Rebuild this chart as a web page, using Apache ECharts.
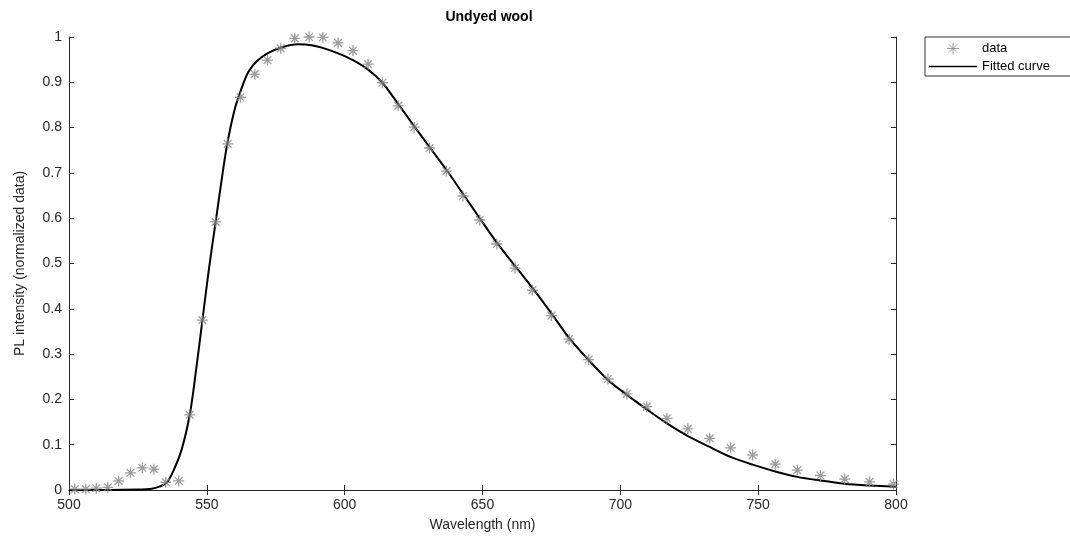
<!DOCTYPE html>
<html>
<head>
<meta charset="utf-8">
<script src="https://cdn.jsdelivr.net/npm/echarts@6/dist/echarts.min.js"></script>
<style>
  html, body { margin: 0; padding: 0; background: #fff; }
  #chart { width: 1070px; height: 545px; }
</style>
</head>
<body>
<div id="chart"></div>
<script>
// measured points (wavelength in nm, normalized PL)
const dataWl = [502.1, 506.1, 509.9, 514.1, 518.0, 522.3, 526.6, 530.8, 535.1, 539.8,
  543.8, 548.4, 553.2, 557.6, 562.2, 567.4, 572.0, 576.8, 581.9, 587.1,
  592.1, 597.6, 603.0, 608.5, 613.7, 619.4, 625.2, 630.8, 636.9, 642.9,
  649.0, 655.2, 661.8, 668.1, 675.0, 681.4, 688.5, 695.5, 702.4, 709.6,
  716.9, 724.5, 732.4, 740.0, 748.0, 756.2, 764.2, 772.6, 781.4, 790.4, 799.1]
const dataVal = [0.002, 0.002, 0.004, 0.006, 0.020, 0.038, 0.049, 0.046, 0.017, 0.020,
  0.166, 0.375, 0.592, 0.764, 0.867, 0.918, 0.949, 0.975, 0.997, 1.000,
  0.999, 0.987, 0.970, 0.940, 0.899, 0.848, 0.801, 0.755, 0.704, 0.649,
  0.596, 0.543, 0.490, 0.441, 0.385, 0.333, 0.288, 0.245, 0.212, 0.184,
  0.158, 0.135, 0.114, 0.093, 0.077, 0.057, 0.044, 0.032, 0.024, 0.018, 0.013]

// fitted curve
const fitWl = [500, 515, 525, 530, 533, 535.3, 537.7, 540.8, 543.8, 546,
  548.4, 550.8, 553.2, 555.5, 557.4, 560, 562.2, 565, 568, 572,
  577, 583, 588, 592, 597.6, 603, 608.5, 613.7, 619.3, 625.1,
  630.8, 636.9, 642.9, 649, 655.2, 661.9, 668.1, 675, 681.4, 688.5,
  695.5, 702.4, 709.6, 716.9, 724.5, 732.4, 740, 748, 756.2, 764.2,
  772.6, 781.4, 790.4, 800]
const fitVal = [0, 0, 0.001, 0.003, 0.008, 0.015, 0.040, 0.088, 0.166, 0.26,
  0.375, 0.49, 0.592, 0.69, 0.764, 0.838, 0.880, 0.922, 0.946, 0.964,
  0.977, 0.984, 0.982, 0.976, 0.964, 0.949, 0.928, 0.899, 0.853, 0.804,
  0.757, 0.707, 0.654, 0.600, 0.546, 0.494, 0.446, 0.390, 0.336, 0.287,
  0.243, 0.210, 0.178, 0.147, 0.119, 0.095, 0.073, 0.056, 0.041, 0.029,
  0.021, 0.014, 0.010, 0.007]

const xMin = 500, xMax = 800, xStep = 50
const yMin = 0, yMax = 1, yStep = 0.1

const textColor = '#262626'
const font = 'Liberation Sans, Arial, Helvetica, sans-serif'
const starPath = 'path://M0 5L10 5M5 0L5 10M1.5 1.5L8.5 8.5M8.5 1.5L1.5 8.5'
// thin horizontal bar, padded so the legend keeps it thin
const linePath = 'path://M0 0H40V0.05H0Z M0 4.4H40V5.6H0Z M0 9.95H40V10H0Z'

const chart = echarts.init(document.getElementById('chart'))

const axisLine = { show: true, lineStyle: { color: textColor, width: 1 } }
const axisTick = { show: true, inside: true, length: 5, lineStyle: { color: textColor } }

chart.setOption({
  animation: false,
  textStyle: { fontFamily: font },
  title: {
    text: 'Undyed wool',
    left: 484,
    textAlign: 'center',
    top: 5,
    textStyle: { fontSize: 14, fontWeight: 'bold', color: '#000', fontFamily: font }
  },
  legend: {
    orient: 'vertical',
    left: 925,
    top: 37,
    itemGap: 3,
    itemWidth: 48,
    itemHeight: 12,
    padding: [3, 30, 3, 4],
    borderColor: '#333',
    borderWidth: 1,
    textStyle: { fontSize: 13, color: '#000', fontFamily: font },
    data: [
      { name: 'data', icon: starPath, itemStyle: { color: 'none', borderColor: '#888', borderWidth: 1 } },
      { name: 'Fitted curve', icon: linePath, itemStyle: { color: '#000', borderWidth: 0 } }
    ]
  },
  grid: { left: 69, right: 174, top: 37, bottom: 55 },
  xAxis: [{
    type: 'value',
    min: xMin, max: xMax, interval: xStep,
    name: 'Wavelength (nm)',
    nameLocation: 'middle',
    nameGap: 28,
    nameTextStyle: { fontSize: 14, color: textColor },
    axisLine: axisLine,
    axisTick: axisTick,
    axisLabel: { fontSize: 14, color: textColor, margin: 8 },
    splitLine: { show: false }
  }, {
    type: 'value',
    position: 'top',
    min: xMin, max: xMax, interval: xStep,
    axisLine: axisLine,
    axisTick: axisTick,
    axisLabel: { show: false },
    splitLine: { show: false }
  }],
  yAxis: [{
    type: 'value',
    min: yMin, max: yMax, interval: yStep,
    name: 'PL intensity (normalized data)',
    nameLocation: 'middle',
    nameGap: 42,
    nameTextStyle: { fontSize: 14, color: textColor },
    axisLine: axisLine,
    axisTick: axisTick,
    axisLabel: { fontSize: 14, color: textColor, margin: 7 },
    splitLine: { show: false }
  }, {
    type: 'value',
    position: 'right',
    min: yMin, max: yMax, interval: yStep,
    axisLine: axisLine,
    axisTick: axisTick,
    axisLabel: { show: false },
    splitLine: { show: false }
  }],
  series: [{
    name: 'data',
    type: 'scatter',
    clip: false,
    symbol: starPath,
    symbolSize: 11,
    itemStyle: { color: 'none', borderColor: '#858585', borderWidth: 1.3 },
    data: dataWl.map((w, i) => [w, dataVal[i]]),
    z: 3
  }, {
    name: 'Fitted curve',
    type: 'line',
    smooth: 0.3,
    showSymbol: false,
    symbol: 'none',
    lineStyle: { color: '#000', width: 2 },
    itemStyle: { color: '#000' },
    data: fitWl.map((w, i) => [w, fitVal[i]]),
    z: 2
  }]
})
</script>
</body>
</html>
